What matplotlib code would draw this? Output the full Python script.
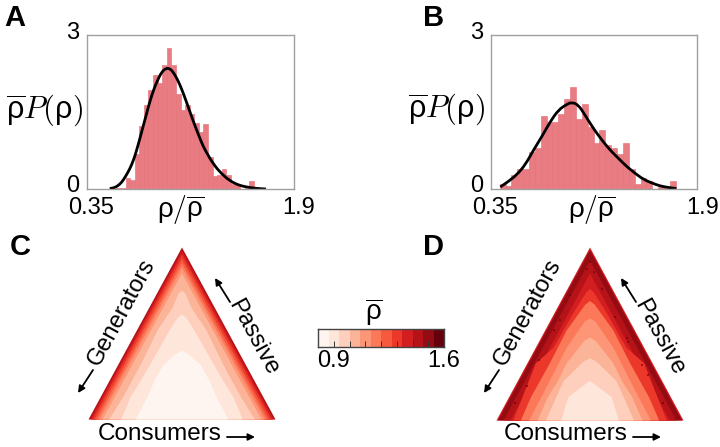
import numpy as np
import matplotlib
matplotlib.use("Agg")
import matplotlib.pyplot as plt
from matplotlib.path import Path
from matplotlib.patches import PathPatch, FancyArrowPatch

plt.rcParams["font.family"] = ["Liberation Sans", "DejaVu Sans"]
plt.rcParams["mathtext.fontset"] = "custom"
plt.rcParams["mathtext.rm"] = "cmr10"
plt.rcParams["mathtext.it"] = "cmmi10"
plt.rcParams["mathtext.sf"] = "Liberation Sans"
plt.rcParams["axes.formatter.use_mathtext"] = False

# histograms (30 equal bins between the two limits)
a_range = (0.57, 1.60)
a_bars = [.01, .01, .21, .18, .69, 1.23, 1.64, 1.93, 2.22, 2.07, 2.41, 2.75, 2.41, 1.86, 1.54,
          1.64, 1.47, 1.28, 1.12, 1.27, .63, .25, .27, .39, .28, .10, .08, 0, .01, .15]
b_range = (0.415, 1.74)
b_bars = [.10, .05, .28, .39, .39, .73, .80, 1.42, 1.31, 1.31, 1.47, 1.76, 1.99, 1.36, 1.65,
          1.20, .90, 1.14, .85, .80, .69, .90, .39, .10, .21, .15, 0, .03, .03, .16]

a_curve_x = [.52, .55, .58, .61, .64, .67, .70, .73, .76, .79, .82, .85, .88, .91, .94, .97, 1.0,
             1.03, 1.06, 1.09, 1.12, 1.15, 1.18, 1.21, 1.24, 1.30, 1.36, 1.42, 1.48, 1.54, 1.62, 1.69]
a_curve_y = [.01, .02, .06, .13, .25, .39, .57, .83, 1.12, 1.41, 1.70, 1.94, 2.13, 2.28, 2.35, 2.35,
             2.26, 2.12, 1.94, 1.73, 1.51, 1.29, 1.09, .89, .73, .47, .29, .16, .08, .04, .01, 0]
b_curve_x = [.42, .4825, .545, .6075, .67, .7325, .795, .8575, .92, .9575, 1.0075, 1.0575, 1.12,
             1.1825, 1.245, 1.3075, 1.37, 1.4325, 1.495, 1.5575, 1.62, 1.6825, 1.745]
b_curve_y = [.04, .15, .28, .47, .76, 1.02, 1.31, 1.54, 1.65, 1.69, 1.64, 1.44, 1.18, .96, .76, .60,
             .44, .31, .19, .12, .06, .03, .01]

# triangle bands, outer to inner: colour step, heights, half widths
c_steps = [9, 8, 7, 6, 5, 4, 3, 2, 1, 0]
c_heights = [[0, 1], [0, .98], [0, .96], [0, .935], [0, .91], [0, .885], [0, .85],
             [0, .13, .32, .52, .65, .73, .75],
             [0, .13, .23, .32, .42, .52, .59, .61],
             [0, .13, .23, .32, .38, .40]]
c_widths = [[1, 0], [.98, 0], [.96, 0], [.935, 0], [.91, 0], [.885, 0], [.85, 0],
            [.78, .63, .44, .26, .10, .04, 0],
            [.65, .55, .435, .34, .235, .13, .05, 0],
            [.495, .37, .29, .195, .07, 0]]

d_steps = [8, 10, 9, 8, 7, 5, 4, 3, 2, 1]
d_heights = [[0, 1], [0, .985], [0, .925], [0, .85],
             [0, .33, .42, .62, .74, .76],
             [0, .136, .33, .52, .67, .69],
             [0, .23, .42, .57, .59],
             [0, .136, .23, .33, .46, .48],
             [0, .136, .23, .34, .36],
             [0, .136, .21, .23]]
d_widths = [[1, 0], [.985, 0], [.925, 0], [.85, 0],
            [.82, .58, .39, .18, .04, 0],
            [.74, .63, .43, .25, .05, 0],
            [.65, .43, .25, .06, 0],
            [.56, .45, .34, .25, .06, 0],
            [.47, .36, .28, .07, 0],
            [.31, .23, .05, 0]]
d_spots_x = [-.206, .007, -.028, .043, .132, .274, .399, .416, .559, .630, .790, -.669, -.794, -.384, -.313, -.544]
d_spots_y = [.722, .914, .875, .856, .760, .597, .472, .453, .319, .261, .098, .194, .098, .520, .578, .347]

W, H = 720, 447
RHO_BAR = r"$\overline{\mathsf{\rho}}$"
YLAB = r"$\overline{\mathsf{\rho}}P(\mathsf{\rho})$"
XLAB = r"$\mathsf{\rho}/\overline{\mathsf{\rho}}$"

fig = plt.figure(figsize=(W / 100, H / 100), dpi=100)
cmap = plt.get_cmap("Reds", 12)


def px_axes(x0, y0, x1, y1):
    return fig.add_axes([x0 / W, 1 - y1 / H, (x1 - x0) / W, (y1 - y0) / H])


def px_text(x, y, s, **kw):
    kw.setdefault("ha", "center")
    kw.setdefault("va", "center")
    fig.text(x / W, 1 - y / H, s, **kw)


def px_arrow(x0, y0, x1, y1):
    fig.add_artist(FancyArrowPatch(
        (x0 / W, 1 - y0 / H), (x1 / W, 1 - y1 / H), transform=fig.transFigure,
        arrowstyle="-|>", mutation_scale=10, lw=1.3, color="k", shrinkA=0, shrinkB=0))


def smooth_line(ax, x, y):
    # quadratic segments through the midpoints, read points act as controls
    pts = np.column_stack([x, y])
    mids = (pts[:-1] + pts[1:]) / 2
    verts = [pts[0], mids[0]]
    codes = [Path.MOVETO, Path.LINETO]
    for p, m in zip(pts[1:-1], mids[1:]):
        verts += [p, m]
        codes += [Path.CURVE3, Path.CURVE3]
    verts.append(pts[-1])
    codes.append(Path.LINETO)
    ax.add_patch(PathPatch(Path(verts, codes), fc="none", ec="k", lw=2))


def hist_panel(x0, x1, bars, rng, cx, cy, ylab_x, xlab_x, ylab_y):
    ax = px_axes(x0, 35, x1, 189)
    edges = np.linspace(rng[0], rng[1], len(bars) + 1)
    ax.bar(edges[:-1], bars, width=np.diff(edges), align="edge", color="#e97c82",
           edgecolor="#e26c73", linewidth=0.4)
    smooth_line(ax, cx, cy)
    ax.set_xlim(0.35, 1.9)
    ax.set_ylim(0, 3)
    ax.set_xticks([])
    ax.set_yticks([])
    for s in ax.spines.values():
        s.set_color("#a0a0a0")
        s.set_linewidth(1)
    px_text(x0 - 14, 33, "3", fontsize=17)
    px_text(x0 - 14, 186, "0", fontsize=17)
    px_text(x0 + 27, 208, "0.35", fontsize=17, ha="right")
    px_text(x0 + 195, 208, "1.9", fontsize=17, ha="left")
    px_text(xlab_x, 210, XLAB, fontsize=20)
    px_text(ylab_x, ylab_y, YLAB, fontsize=22)


def triangle_panel(x0, x1, y0, y1, steps, heights, widths):
    ax = px_axes(x0, y0, x1, y1)
    for step, h, w in zip(steps, heights, widths):
        w = np.array(w)
        ax.fill_betweenx(h, -w, w, color=cmap(step), linewidth=0)
    ax.set_xlim(-1, 1)
    ax.set_ylim(0, 1)
    ax.axis("off")
    return ax


hist_panel(87, 294, a_bars, a_range, a_curve_x, a_curve_y, 45, 181, 111)
hist_panel(491, 697, b_bars, b_range, b_curve_x, b_curve_y, 447, 592, 110)

triangle_panel(88, 275, 247, 419, c_steps, c_heights, c_widths)
ax_d = triangle_panel(496, 683, 247, 420, d_steps, d_heights, d_widths)
ax_d.scatter(d_spots_x, d_spots_y, s=3, marker="s", color=cmap(11), linewidths=0, alpha=0.6)

# colour bar
cax = px_axes(318, 329, 444, 347)
cax.pcolormesh(np.linspace(0.9, 1.6, 13), [0, 1], np.arange(12)[None, :], cmap=cmap, vmin=0, vmax=11)
cax.set_yticks([])
cax.set_xticks(np.linspace(0.9, 1.6, 9)[1:-1])
cax.set_xticklabels([])
cax.tick_params(axis="x", direction="in", length=4, width=0.7, color="#333333")
for s in cax.spines.values():
    s.set_color("#444444")
    s.set_linewidth(1)
px_text(374, 312, RHO_BAR, fontsize=20)
px_text(334, 361, "0.9", fontsize=17)
px_text(444, 361, "1.6", fontsize=17)

# panel letters
px_text(4, 18, "A", fontsize=21, fontweight="bold", ha="left")
px_text(423, 18, "B", fontsize=21, fontweight="bold", ha="left")
px_text(10, 247, "C", fontsize=21, fontweight="bold", ha="left")
px_text(423, 247, "D", fontsize=21, fontweight="bold", ha="left")

# triangle labels
for dx in [0, 406]:
    px_text(122 + dx, 312, "Generators", fontsize=17, rotation=61.5, rotation_mode="anchor")
    px_text(253 + dx, 337, "Passive", fontsize=17, rotation=-61.5, rotation_mode="anchor")
    px_text(160 + dx, 434, "Consumers", fontsize=17.5)
    px_arrow(93 + dx, 370, 78 + dx, 393)
    px_arrow(230 + dx, 302, 215 + dx, 278)
    px_arrow(227 + dx, 437, 255 + dx, 437)

fig.savefig("out.png", dpi=100)
